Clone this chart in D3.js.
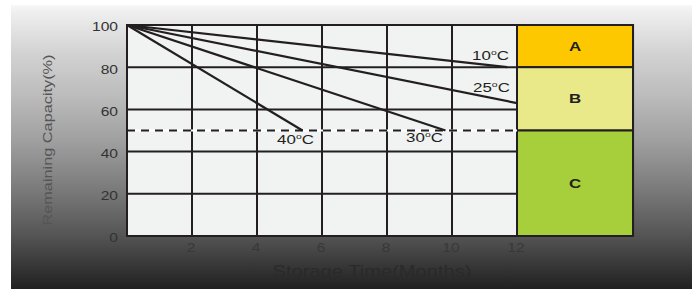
<!DOCTYPE html>
<html>
<head>
<meta charset="utf-8">
<script src="https://cdn.jsdelivr.net/npm/d3@7"></script>
<style>
  body { margin: 0; background: #fff; }
  svg { display: block; font-family: "Liberation Sans", Arial, Helvetica, sans-serif; }
</style>
</head>
<body>
<div id="chart"></div>
<script>
// values
const months = [2, 4, 6, 8, 10, 12];
const capacities = [0, 20, 40, 60, 80, 100];
const temps = ['10', '25', '30', '40'];
const endMonth = [11.7, 12, 9.8, 5.4];
const endCapacity = [80, 63, 50, 50];
const labelMonth = [11.75, 11.78, 9.72, 5.75];
const labelCapacity = [83.4, 68.2, 44.5, 43.6];
const grades = ['A', 'B', 'C'];
const gradeTop = [100, 80, 50];
const gradeBottom = [80, 50, 0];
const gradeColors = ['#fdc800', '#e9e98a', '#a7cf3b'];
const limitCapacity = 50;
const zoneEnd = 15.57;

const width = 695, height = 289;
const ink = '#231f20';
const sx = 1.3; // the type in the picture is stretched sideways

const svg = d3.select('#chart').append('svg')
  .attr('width', width)
  .attr('height', height);

const x = d3.scaleLinear().domain([0, 12]).range([127, 517]);
const y = d3.scaleLinear().domain([0, 100]).range([236, 25]);

// background panel
const grad = svg.append('defs').append('linearGradient')
  .attr('id', 'bg')
  .attr('x1', 0).attr('y1', 0).attr('x2', 0).attr('y2', 1);
[[0, '#f8f8f8'], [0.02, '#f0f0f0'], [0.16, '#d4d4d4'], [0.33, '#bababa'],
 [0.475, '#a0a0a0'], [0.65, '#7a7a7a'], [0.81, '#555555'], [0.9, '#3c3c3c'], [1, '#202020']]
  .forEach(([o, c]) => grad.append('stop').attr('offset', o).attr('stop-color', c));

svg.append('rect')
  .attr('x', 11).attr('y', 5)
  .attr('width', 681).attr('height', height - 5)
  .attr('fill', 'url(#bg)');

// plot area
svg.append('rect')
  .attr('x', x(0)).attr('y', y(100))
  .attr('width', x(12) - x(0)).attr('height', y(0) - y(100))
  .attr('fill', '#f1f3f2');

// grade boxes
svg.append('g')
  .selectAll('rect')
  .data(grades)
  .enter()
  .append('rect')
  .attr('x', x(12))
  .attr('y', (d, i) => y(gradeTop[i]))
  .attr('width', x(zoneEnd) - x(12))
  .attr('height', (d, i) => y(gradeBottom[i]) - y(gradeTop[i]))
  .attr('fill', (d, i) => gradeColors[i])
  .attr('stroke', ink)
  .attr('stroke-width', 2);

// grid
const grid = svg.append('g').attr('stroke', ink).attr('stroke-width', 2);
grid.selectAll('.h')
  .data(capacities.filter((c) => c > 0 && c < 100))
  .enter()
  .append('line')
  .attr('x1', x(0)).attr('x2', x(12))
  .attr('y1', (d) => y(d)).attr('y2', (d) => y(d));
grid.selectAll('.v')
  .data(months)
  .enter()
  .append('line')
  .attr('x1', (d) => x(d)).attr('x2', (d) => x(d))
  .attr('y1', y(0)).attr('y2', y(100));

// 50% limit
svg.append('line')
  .attr('x1', x(0)).attr('x2', x(12))
  .attr('y1', y(limitCapacity)).attr('y2', y(limitCapacity))
  .attr('stroke', '#fff').attr('stroke-width', 2);
svg.append('line')
  .attr('x1', x(0)).attr('x2', x(12))
  .attr('y1', y(limitCapacity)).attr('y2', y(limitCapacity))
  .attr('stroke', ink).attr('stroke-width', 2)
  .attr('stroke-dasharray', '8,6');

// storage curves
svg.append('g')
  .selectAll('line')
  .data(temps)
  .enter()
  .append('line')
  .attr('x1', x(0)).attr('y1', y(100))
  .attr('x2', (d, i) => x(endMonth[i]))
  .attr('y2', (d, i) => y(endCapacity[i]))
  .attr('stroke', ink)
  .attr('stroke-width', 2.2);

// frame
svg.append('rect')
  .attr('x', x(0)).attr('y', y(100))
  .attr('width', x(zoneEnd) - x(0)).attr('height', y(0) - y(100))
  .attr('fill', 'none')
  .attr('stroke', ink)
  .attr('stroke-width', 2);

// temperature labels
const labels = svg.append('g')
  .selectAll('text')
  .data(temps)
  .enter()
  .append('text')
  .attr('transform', (d, i) => `translate(${x(labelMonth[i])},${y(labelCapacity[i])}) scale(${sx},1)`)
  .attr('text-anchor', 'end')
  .attr('font-size', 13)
  .attr('fill', ink);
labels.append('tspan').text((d) => d);
labels.append('tspan').attr('font-size', 8).attr('dy', -5).text('o');
labels.append('tspan').attr('dy', 5).text('C');

// grade letters
svg.append('g')
  .selectAll('text')
  .data(grades)
  .enter()
  .append('text')
  .attr('transform', (d, i) => `translate(${(x(12) + x(zoneEnd)) / 2},${(y(gradeTop[i]) + y(gradeBottom[i])) / 2 + 4.5}) scale(${sx},1)`)
  .attr('text-anchor', 'middle')
  .attr('font-size', 13)
  .attr('font-weight', 'bold')
  .attr('fill', ink)
  .text((d) => d);

// axes (labels only)
const yAxis = svg.append('g')
  .attr('transform', `translate(${x(0)},0)`)
  .call(d3.axisLeft(y).tickValues(capacities).tickSize(0).tickPadding(0));
yAxis.select('.domain').remove();
yAxis.selectAll('text')
  .attr('x', -9 / sx).attr('dy', '0.32em').attr('y', 2)
  .attr('transform', `scale(${sx},1)`)
  .attr('font-size', 12)
  .attr('font-family', null)
  .attr('fill', '#333');

const xAxis = svg.append('g')
  .attr('transform', `translate(0,${y(0)})`)
  .call(d3.axisBottom(x).tickValues(months).tickSize(0).tickPadding(0));
xAxis.select('.domain').remove();
xAxis.selectAll('.tick').attr('transform', (d) => `translate(${x(d) - 1},0)`);
xAxis.selectAll('text')
  .attr('y', 16).attr('dy', 0)
  .attr('transform', `scale(${sx},1)`)
  .attr('font-size', 12)
  .attr('font-family', null)
  .attr('fill', '#383838');

// axis titles
svg.append('text')
  .attr('x', 372).attr('y', 277)
  .attr('text-anchor', 'middle')
  .attr('font-size', 17)
  .attr('textLength', 199)
  .attr('lengthAdjust', 'spacingAndGlyphs')
  .attr('fill', '#2a2a2a')
  .text('Storage  Time(Months)');

svg.append('text')
  .attr('transform', 'translate(52,140) rotate(-90)')
  .attr('text-anchor', 'middle')
  .attr('font-size', 13)
  .attr('textLength', 171)
  .attr('lengthAdjust', 'spacingAndGlyphs')
  .attr('fill', '#555')
  .text('Remaining  Capacity(%)');
</script>
</body>
</html>
